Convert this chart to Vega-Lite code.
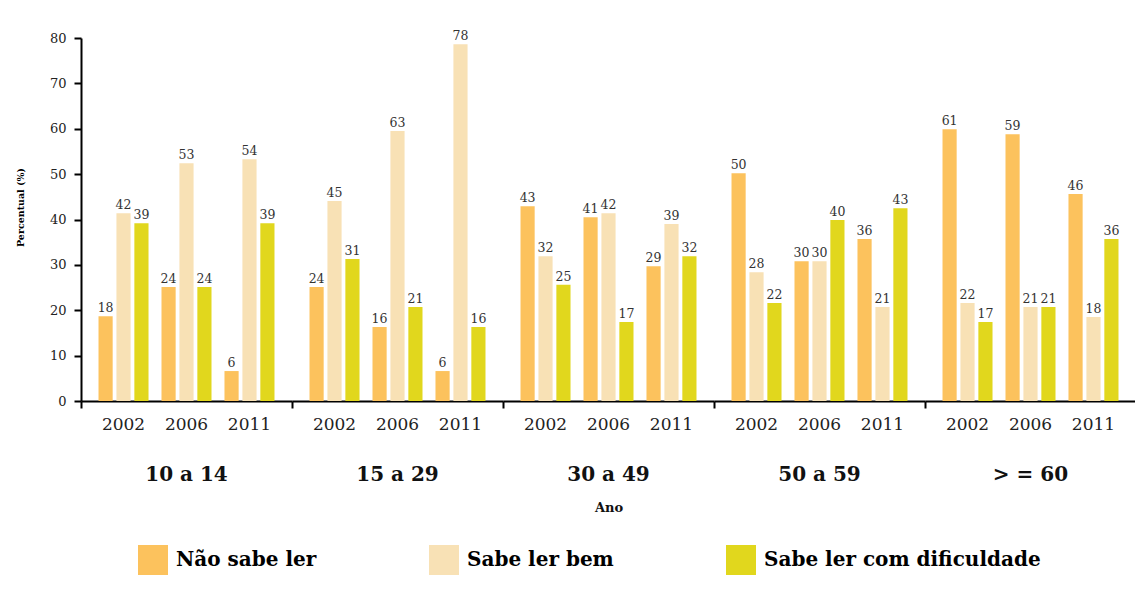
{
  "$schema": "https://vega.github.io/schema/vega-lite/v6.json",
  "padding": {"left": 15, "top": 30, "right": 0, "bottom": 0},
  "background": "white",
  "data": {
    "values": [
      {"grupo": "10 a 14", "ano": "2002", "serie": "Não sabe ler", "pct": 18.7, "rotulo": 18},
      {"grupo": "10 a 14", "ano": "2002", "serie": "Sabe ler bem", "pct": 41.4, "rotulo": 42},
      {"grupo": "10 a 14", "ano": "2002", "serie": "Sabe ler com dificuldade", "pct": 39.2, "rotulo": 39},
      {"grupo": "10 a 14", "ano": "2006", "serie": "Não sabe ler", "pct": 25.1, "rotulo": 24},
      {"grupo": "10 a 14", "ano": "2006", "serie": "Sabe ler bem", "pct": 52.4, "rotulo": 53},
      {"grupo": "10 a 14", "ano": "2006", "serie": "Sabe ler com dificuldade", "pct": 25.1, "rotulo": 24},
      {"grupo": "10 a 14", "ano": "2011", "serie": "Não sabe ler", "pct": 6.6, "rotulo": 6},
      {"grupo": "10 a 14", "ano": "2011", "serie": "Sabe ler bem", "pct": 53.3, "rotulo": 54},
      {"grupo": "10 a 14", "ano": "2011", "serie": "Sabe ler com dificuldade", "pct": 39.2, "rotulo": 39},
      {"grupo": "15 a 29", "ano": "2002", "serie": "Não sabe ler", "pct": 25.1, "rotulo": 24},
      {"grupo": "15 a 29", "ano": "2002", "serie": "Sabe ler bem", "pct": 44.1, "rotulo": 45},
      {"grupo": "15 a 29", "ano": "2002", "serie": "Sabe ler com dificuldade", "pct": 31.3, "rotulo": 31},
      {"grupo": "15 a 29", "ano": "2006", "serie": "Não sabe ler", "pct": 16.3, "rotulo": 16},
      {"grupo": "15 a 29", "ano": "2006", "serie": "Sabe ler bem", "pct": 59.5, "rotulo": 63},
      {"grupo": "15 a 29", "ano": "2006", "serie": "Sabe ler com dificuldade", "pct": 20.7, "rotulo": 21},
      {"grupo": "15 a 29", "ano": "2011", "serie": "Não sabe ler", "pct": 6.6, "rotulo": 6},
      {"grupo": "15 a 29", "ano": "2011", "serie": "Sabe ler bem", "pct": 78.6, "rotulo": 78},
      {"grupo": "15 a 29", "ano": "2011", "serie": "Sabe ler com dificuldade", "pct": 16.3, "rotulo": 16},
      {"grupo": "30 a 49", "ano": "2002", "serie": "Não sabe ler", "pct": 42.9, "rotulo": 43},
      {"grupo": "30 a 49", "ano": "2002", "serie": "Sabe ler bem", "pct": 31.9, "rotulo": 32},
      {"grupo": "30 a 49", "ano": "2002", "serie": "Sabe ler com dificuldade", "pct": 25.6, "rotulo": 25},
      {"grupo": "30 a 49", "ano": "2006", "serie": "Não sabe ler", "pct": 40.5, "rotulo": 41},
      {"grupo": "30 a 49", "ano": "2006", "serie": "Sabe ler bem", "pct": 41.4, "rotulo": 42},
      {"grupo": "30 a 49", "ano": "2006", "serie": "Sabe ler com dificuldade", "pct": 17.4, "rotulo": 17},
      {"grupo": "30 a 49", "ano": "2011", "serie": "Não sabe ler", "pct": 29.7, "rotulo": 29},
      {"grupo": "30 a 49", "ano": "2011", "serie": "Sabe ler bem", "pct": 39.0, "rotulo": 39},
      {"grupo": "30 a 49", "ano": "2011", "serie": "Sabe ler com dificuldade", "pct": 31.9, "rotulo": 32},
      {"grupo": "50 a 59", "ano": "2002", "serie": "Não sabe ler", "pct": 50.2, "rotulo": 50},
      {"grupo": "50 a 59", "ano": "2002", "serie": "Sabe ler bem", "pct": 28.4, "rotulo": 28},
      {"grupo": "50 a 59", "ano": "2002", "serie": "Sabe ler com dificuldade", "pct": 21.6, "rotulo": 22},
      {"grupo": "50 a 59", "ano": "2006", "serie": "Não sabe ler", "pct": 30.8, "rotulo": 30},
      {"grupo": "50 a 59", "ano": "2006", "serie": "Sabe ler bem", "pct": 30.8, "rotulo": 30},
      {"grupo": "50 a 59", "ano": "2006", "serie": "Sabe ler com dificuldade", "pct": 39.9, "rotulo": 40},
      {"grupo": "50 a 59", "ano": "2011", "serie": "Não sabe ler", "pct": 35.7, "rotulo": 36},
      {"grupo": "50 a 59", "ano": "2011", "serie": "Sabe ler bem", "pct": 20.7, "rotulo": 21},
      {"grupo": "50 a 59", "ano": "2011", "serie": "Sabe ler com dificuldade", "pct": 42.5, "rotulo": 43},
      {"grupo": "> = 60", "ano": "2002", "serie": "Não sabe ler", "pct": 59.9, "rotulo": 61},
      {"grupo": "> = 60", "ano": "2002", "serie": "Sabe ler bem", "pct": 21.6, "rotulo": 22},
      {"grupo": "> = 60", "ano": "2002", "serie": "Sabe ler com dificuldade", "pct": 17.4, "rotulo": 17},
      {"grupo": "> = 60", "ano": "2006", "serie": "Não sabe ler", "pct": 58.8, "rotulo": 59},
      {"grupo": "> = 60", "ano": "2006", "serie": "Sabe ler bem", "pct": 20.7, "rotulo": 21},
      {"grupo": "> = 60", "ano": "2006", "serie": "Sabe ler com dificuldade", "pct": 20.7, "rotulo": 21},
      {"grupo": "> = 60", "ano": "2011", "serie": "Não sabe ler", "pct": 45.6, "rotulo": 46},
      {"grupo": "> = 60", "ano": "2011", "serie": "Sabe ler bem", "pct": 18.5, "rotulo": 18},
      {"grupo": "> = 60", "ano": "2011", "serie": "Sabe ler com dificuldade", "pct": 35.7, "rotulo": 36}
    ]
  },
  "facet": {
    "column": {
      "field": "grupo",
      "type": "nominal",
      "sort": ["10 a 14", "15 a 29", "30 a 49", "50 a 59", "> = 60"],
      "header": {
        "title": "Ano",
        "titleOrient": "bottom",
        "labelOrient": "bottom",
        "labelFont": "DejaVu Serif",
        "labelFontWeight": "bold",
        "labelFontSize": 20,
        "labelColor": "#111",
        "labelPadding": 33,
        "titleFont": "DejaVu Serif",
        "titleFontWeight": "bold",
        "titleFontSize": 13,
        "titleColor": "#111",
        "titlePadding": 7
      }
    }
  },
  "spacing": 0,
  "spec": {
    "width": 211,
    "height": 363,
    "layer": [
      {
        "mark": {"type": "bar"},
        "encoding": {
          "x": {
            "field": "ano",
            "type": "ordinal",
            "scale": {"paddingInner": 0.206, "paddingOuter": 0.278},
            "axis": {
              "orient": "bottom",
              "title": null,
              "ticks": false,
              "tickSize": 0,
              "labelAngle": 0,
              "labelFont": "DejaVu Serif",
              "labelFontSize": 17,
              "labelColor": "#222",
              "labelPadding": 15,
              "domainColor": "#000",
              "domainWidth": 2,
              "grid": false
            }
          },
          "xOffset": {
            "field": "serie",
            "type": "nominal",
            "sort": ["Não sabe ler", "Sabe ler bem", "Sabe ler com dificuldade"],
            "scale": {"paddingInner": 0.21, "paddingOuter": 0}
          },
          "y": {
            "field": "pct",
            "type": "quantitative",
            "scale": {"domain": [0, 80]},
            "axis": {
              "title": "Percentual (%)",
              "titleFont": "DejaVu Serif",
              "titleFontWeight": "bold",
              "titleFontSize": 9.5,
              "titleColor": "#000",
              "titlePadding": 24,
              "titleY": 169,
              "labelFont": "DejaVu Serif",
              "labelFontSize": 13,
              "labelColor": "#222",
              "labelPadding": 8,
              "tickSize": 7,
              "tickWidth": 2,
              "tickColor": "#000",
              "domainColor": "#000",
              "domainWidth": 2,
              "values": [0, 10, 20, 30, 40, 50, 60, 70, 80],
              "grid": false
            }
          },
          "color": {
            "field": "serie",
            "type": "nominal",
            "sort": ["Não sabe ler", "Sabe ler bem", "Sabe ler com dificuldade"],
            "scale": {
              "domain": ["Não sabe ler", "Sabe ler bem", "Sabe ler com dificuldade"],
              "range": ["#FCC25D", "#F8E1B5", "#E1D71D"]
            },
            "legend": {
              "title": null,
              "orient": "none",
              "legendX": 57,
              "legendY": 507,
              "direction": "horizontal",
              "symbolType": "square",
              "symbolSize": 900,
              "symbolStrokeWidth": 0,
              "symbolOpacity": 1,
              "labelFont": "DejaVu Serif",
              "labelFontWeight": "bold",
              "labelFontSize": 20,
              "labelColor": "#000",
              "labelOffset": 8,
              "columnPadding": 112,
              "padding": 0,
              "labelLimit": 400
            }
          }
        }
      },
      {
        "mark": {"type": "text", "baseline": "bottom", "dy": -1, "font": "DejaVu Serif", "fontSize": 12.5, "color": "#333"},
        "encoding": {
          "x": {
            "field": "ano",
            "type": "ordinal",
            "axis": {
              "orient": "bottom",
              "title": null,
              "values": ["2002"],
              "bandPosition": 0,
              "tickOffset": -17.5,
              "labels": false,
              "domain": false,
              "ticks": true,
              "tickSize": 7,
              "tickWidth": 2,
              "tickColor": "#000",
              "grid": false
            }
          },
          "xOffset": {
            "field": "serie",
            "type": "nominal",
            "sort": ["Não sabe ler", "Sabe ler bem", "Sabe ler com dificuldade"]
          },
          "y": {"field": "pct", "type": "quantitative"},
          "text": {"field": "rotulo", "type": "quantitative", "format": "d"}
        }
      }
    ],
    "resolve": {"axis": {"x": "independent"}}
  },
  "config": {
    "view": {"stroke": null},
    "axis": {"grid": false}
  }
}
